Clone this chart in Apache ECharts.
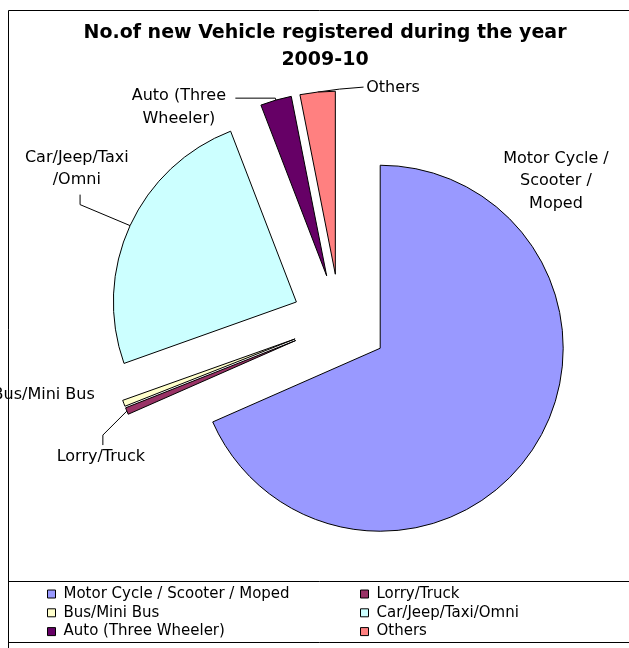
<!DOCTYPE html>
<html>
<head>
<meta charset="utf-8">
<script src="https://cdn.jsdelivr.net/npm/echarts@6/dist/echarts.min.js"></script>
<style>
  html, body { margin: 0; padding: 0; background: #fff; }
  #chart { width: 629px; height: 648px; }
</style>
</head>
<body>
<div id="chart"></div>
<script>
const categories = [
  "Motor Cycle / Scooter / Moped",
  "Lorry/Truck",
  "Bus/Mini Bus",
  "Car/Jeep/Taxi/Omni",
  "Auto (Three Wheeler)",
  "Others"
];
// share of new registrations (%)
const shares = [68.4, 0.6, 0.55, 24.6, 2.75, 3.1];
const sliceLabels = [
  "Motor Cycle /\nScooter /\nMoped",
  "Lorry/Truck",
  "Bus/Mini Bus",
  "Car/Jeep/Taxi\n/Omni",
  "Auto (Three\nWheeler)",
  "Others"
];

const colors = ["#9999FF", "#993366", "#FFFFCC", "#CCFFFF", "#660066", "#FF8080"];

// label placement tweaks: leader line lengths, horizontal nudge (padding),
// vertical nudge (spacer line above (+) or below (-) the text)
const lineShow = [false, true, false, true, true, true];
const lineLen = [0, 26, 0, 52, 2, 0];
const lineLen2 = [0, 0, 0, 0, 40, 0];
const labelAlign = ["center", "center", "right", "center", "center", "center"];
const labelPad = [
  [0, 0, 0, 35],
  [0, 0, 0, 6],
  [0, 24, 0, 0],
  [0, 2, 0, 0],
  [0, 103, 0, 0],
  [0, 0, 0, 161]
];
const labelSpacer = [-534, 72, -17, -70, 18, -8];
// extra bends of some leader lines, relative to where the line leaves the slice
const lineBends = [
  null,
  [[-24, 24], [-24, 34]],
  null,
  [[-50, -21], [-50, -31]],
  null,
  [[22, -3], [46, -5]]
];

const chart = echarts.init(document.getElementById("chart"));

function labelText(i) {
  const s = labelSpacer[i];
  if (s > 0) return "{sp| }\n" + sliceLabels[i];
  if (s < 0) return sliceLabels[i] + "\n{sp| }";
  return sliceLabels[i];
}

chart.setOption({
  animation: false,
  title: {
    text: "No.of new Vehicle registered during the year\n2009-10",
    left: 325,
    top: 20,
    textAlign: "center",
    padding: 0,
    textStyle: {
      fontFamily: "DejaVu Sans",
      fontWeight: "bold",
      fontSize: 19,
      lineHeight: 27,
      color: "#000"
    }
  },
  // chart frame and legend box
  graphic: [
    {
      type: "rect",
      shape: { x: 8.5, y: 10.5, width: 700, height: 700 },
      style: { fill: null, stroke: "#000", lineWidth: 1 },
      silent: true
    },
    {
      type: "rect",
      shape: { x: 8.5, y: 581.5, width: 700, height: 61 },
      style: { fill: null, stroke: "#000", lineWidth: 1 },
      silent: true
    }
  ],
  legend: [
    {
      orient: "vertical",
      left: 47,
      top: 585,
      padding: 0,
      itemGap: 0.8,
      itemWidth: 8,
      itemHeight: 8,
      icon: "rect",
      selectedMode: false,
      data: [categories[0], categories[2], categories[4]],
      itemStyle: { borderColor: "#000", borderWidth: 1 },
      textStyle: { fontFamily: "DejaVu Sans", fontSize: 15, lineHeight: 18, color: "#000", padding: [0, 0, 0, 3] }
    },
    {
      orient: "vertical",
      left: 360,
      top: 585,
      padding: 0,
      itemGap: 0.8,
      itemWidth: 8,
      itemHeight: 8,
      icon: "rect",
      selectedMode: false,
      data: [categories[1], categories[3], categories[5]],
      itemStyle: { borderColor: "#000", borderWidth: 1 },
      textStyle: { fontFamily: "DejaVu Sans", fontSize: 15, lineHeight: 18, color: "#000", padding: [0, 0, 0, 3] }
    }
  ],
  series: [
    {
      type: "pie",
      center: [340, 322],
      radius: [0, 183],
      startAngle: 90,
      clockwise: true,
      selectedMode: "multiple",
      selectedOffset: 48,
      avoidLabelOverlap: false,
      emphasis: { scale: false },
      itemStyle: { borderColor: "#000", borderWidth: 1 },
      select: { itemStyle: { borderColor: "#000", borderWidth: 1 } },
      label: {
        show: true,
        position: "outside",
        fontFamily: "DejaVu Sans",
        fontSize: 16,
        lineHeight: 22.5,
        color: "#000",
        formatter: function (p) {
          return labelText(p.dataIndex);
        }
      },
      labelLine: {
        show: true,
        lineStyle: { color: "#000", width: 1 }
      },
      labelLayout: function (p) {
        const out = { align: labelAlign[p.dataIndex] };
        const bend = lineBends[p.dataIndex];
        if (bend && p.labelLinePoints) {
          const p0 = p.labelLinePoints[0];
          out.labelLinePoints = [
            [p0[0], p0[1]],
            [p0[0] + bend[0][0], p0[1] + bend[0][1]],
            [p0[0] + bend[1][0], p0[1] + bend[1][1]]
          ];
        }
        return out;
      },
      data: categories.map(function (name, i) {
        return {
          name: name,
          value: shares[i],
          selected: true,
          itemStyle: { color: colors[i] },
          label: {
            padding: labelPad[i],
            rich: { sp: { fontSize: 1, lineHeight: Math.abs(labelSpacer[i]) } }
          },
          labelLine: { show: lineShow[i], length: lineLen[i], length2: lineLen2[i] }
        };
      })
    }
  ]
});
</script>
</body>
</html>
